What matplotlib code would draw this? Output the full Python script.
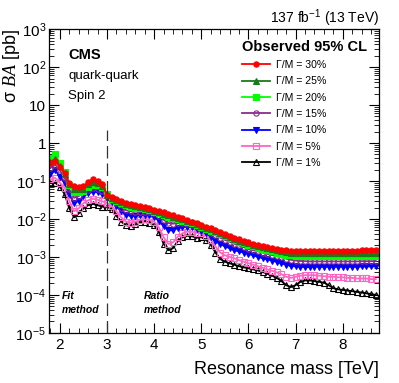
import numpy as np
import matplotlib
matplotlib.use('Agg')
import matplotlib.pyplot as plt

plt.rcParams['font.family'] = ['Liberation Sans', 'DejaVu Sans']
plt.rcParams['mathtext.fontset'] = 'custom'
plt.rcParams['mathtext.rm'] = 'Liberation Sans'
plt.rcParams['mathtext.it'] = 'Liberation Serif:italic'
plt.rcParams['mathtext.default'] = 'regular'

# resonance mass grid [TeV]
mass = np.arange(1.8, 8.75, 0.1).round(1)

# observed 95% CL limits [pb], one list per width
lim30 = [0.30, 0.33, 0.24, 0.16, 0.087, 0.073, 0.070, 0.072, 0.095, 0.110,
         0.100, 0.082, 0.042, 0.037, 0.033, 0.030, 0.027, 0.025, 0.0235, 0.022,
         0.0205, 0.019, 0.0175, 0.016, 0.0148, 0.0135, 0.0124, 0.0114, 0.0104, 0.0094,
         0.0085, 0.0076, 0.0069, 0.0062, 0.0056, 0.0050, 0.0045, 0.0040, 0.0036, 0.0032,
         0.0029, 0.0026, 0.0024, 0.0022, 0.0020, 0.0019, 0.0018, 0.0017, 0.0016, 0.00155,
         0.00150, 0.00145, 0.00142, 0.00142, 0.00142, 0.00143, 0.00143, 0.00143, 0.00144, 0.00144,
         0.00145, 0.00145, 0.00146, 0.00146, 0.00147, 0.00147, 0.00148, 0.00148, 0.00149, 0.00150]
lim25 = [0.32, 0.38, 0.25, 0.15, 0.083, 0.062, 0.060, 0.063, 0.082, 0.095,
         0.090, 0.075, 0.044, 0.036, 0.032, 0.028, 0.025, 0.023, 0.022, 0.0205,
         0.0193, 0.018, 0.0166, 0.0152, 0.0138, 0.0125, 0.0115, 0.0106, 0.0097, 0.0089,
         0.0081, 0.0072, 0.0065, 0.0059, 0.0053, 0.0047, 0.0042, 0.0038, 0.0034, 0.0030,
         0.0027, 0.0025, 0.0023, 0.0021, 0.0019, 0.0018, 0.0017, 0.0016, 0.0015, 0.00142,
         0.00135, 0.00130, 0.00127, 0.00126, 0.00126, 0.00126, 0.00126, 0.00127, 0.00127, 0.00127,
         0.00127, 0.00128, 0.00128, 0.00128, 0.00129, 0.00129, 0.00129, 0.00130, 0.00130, 0.00130]
lim20 = [0.40, 0.50, 0.30, 0.17, 0.080, 0.050, 0.050, 0.055, 0.070, 0.080,
         0.078, 0.068, 0.045, 0.034, 0.030, 0.026, 0.023, 0.021, 0.020, 0.019,
         0.018, 0.017, 0.0155, 0.0142, 0.0128, 0.0115, 0.0105, 0.0097, 0.0090, 0.0083,
         0.0076, 0.0068, 0.0061, 0.0055, 0.0049, 0.0044, 0.0039, 0.0035, 0.0031, 0.0028,
         0.0025, 0.0023, 0.0021, 0.0019, 0.00175, 0.0016, 0.0015, 0.0014, 0.0013, 0.00122,
         0.00115, 0.00110, 0.00105, 0.00104, 0.00104, 0.00104, 0.00104, 0.00104, 0.00105, 0.00105,
         0.00105, 0.00105, 0.00106, 0.00106, 0.00106, 0.00107, 0.00107, 0.00107, 0.00108, 0.00108]
lim15 = [0.22, 0.27, 0.19, 0.12, 0.060, 0.036, 0.040, 0.050, 0.058, 0.064,
         0.062, 0.056, 0.040, 0.031, 0.026, 0.020, 0.017, 0.016, 0.0155, 0.0155,
         0.0155, 0.015, 0.014, 0.012, 0.0095, 0.0078, 0.0075, 0.0077, 0.0076, 0.0073,
         0.0068, 0.0063, 0.0057, 0.0050, 0.0043, 0.0037, 0.0032, 0.0028, 0.0025, 0.0022,
         0.0020, 0.0018, 0.0016, 0.0015, 0.0014, 0.0013, 0.0012, 0.00112, 0.00104, 0.00097,
         0.00090, 0.00084, 0.00080, 0.00078, 0.00077, 0.00076, 0.00076, 0.00076, 0.00076, 0.00076,
         0.00076, 0.00076, 0.00076, 0.00076, 0.00076, 0.00076, 0.00077, 0.00077, 0.00077, 0.00078]
lim10 = [0.15, 0.19, 0.13, 0.09, 0.045, 0.026, 0.030, 0.040, 0.047, 0.052,
         0.050, 0.045, 0.035, 0.028, 0.022, 0.016, 0.013, 0.012, 0.012, 0.0125,
         0.013, 0.0125, 0.0115, 0.009, 0.0065, 0.0050, 0.0050, 0.0058, 0.0062, 0.0062,
         0.0060, 0.0055, 0.0048, 0.0042, 0.0034, 0.0027, 0.0022, 0.0019, 0.0017, 0.0015,
         0.0014, 0.0013, 0.0012, 0.0011, 0.0010, 0.00093, 0.00086, 0.00080, 0.00074, 0.00068,
         0.00062, 0.00058, 0.00056, 0.00055, 0.00054, 0.00054, 0.00055, 0.00055, 0.00055, 0.00055,
         0.00055, 0.00055, 0.00055, 0.00055, 0.00055, 0.00055, 0.00056, 0.00056, 0.00056, 0.00056]
lim5 = [0.11, 0.12, 0.09, 0.065, 0.030, 0.016, 0.019, 0.026, 0.031, 0.034,
        0.032, 0.029, 0.026, 0.022, 0.016, 0.011, 0.0085, 0.0080, 0.0085, 0.0095,
        0.0100, 0.0095, 0.0085, 0.0060, 0.0033, 0.0022, 0.0024, 0.0034, 0.0042, 0.0046,
        0.0046, 0.0043, 0.0042, 0.0036, 0.0028, 0.0019, 0.0013, 0.0011, 0.0010, 0.00092,
        0.00082, 0.00075, 0.00068, 0.00062, 0.00057, 0.00052, 0.00047, 0.00043, 0.00039, 0.00035,
        0.00030, 0.00028, 0.00030, 0.00032, 0.00033, 0.00033, 0.00033, 0.00032, 0.00031, 0.00030,
        0.00030, 0.00029, 0.00029, 0.00028, 0.00028, 0.00027, 0.00027, 0.00027, 0.00026, 0.00026]
lim1 = [0.091, 0.090, 0.070, 0.045, 0.019, 0.011, 0.014, 0.019, 0.023, 0.025,
        0.023, 0.021, 0.021, 0.018, 0.012, 0.0085, 0.0068, 0.0066, 0.0072, 0.0082,
        0.0085, 0.0080, 0.0068, 0.0045, 0.0022, 0.0015, 0.0017, 0.0026, 0.0033, 0.0036,
        0.0035, 0.0032, 0.0033, 0.0028, 0.0021, 0.0013, 0.00088, 0.00075, 0.00068, 0.00062,
        0.00057, 0.00053, 0.00050, 0.00047, 0.00044, 0.00040, 0.00036, 0.00032, 0.00028, 0.00023,
        0.00018, 0.00016, 0.00018, 0.00022, 0.00024, 0.00024, 0.00023, 0.00022, 0.00021, 0.00018,
        0.00015, 0.00014, 0.000135, 0.00013, 0.000125, 0.00012, 0.000115, 0.00011, 0.000105, 0.00010]

labels = ['Γ/M = 30%', 'Γ/M = 25%', 'Γ/M = 20%', 'Γ/M = 15%',
          'Γ/M = 10%', 'Γ/M = 5%', 'Γ/M = 1%']
limits = [lim30, lim25, lim20, lim15, lim10, lim5, lim1]
colors = ['#ff0000', '#1a7a1a', '#00ff00', '#8c2a8c', '#0000ff', '#ff66c4', '#000000']
markers = ['o', '^', 's', 'o', 'v', 's', '^']
filled = [True, True, True, False, True, False, False]

fig = plt.figure(figsize=(3.99, 3.83), dpi=100)
ax = fig.add_axes([0.123, 0.131, 0.827, 0.793])

handles = []
for i in reversed(range(len(limits))):
    fc = colors[i] if filled[i] else 'none'
    h, = ax.plot(mass, limits[i], color=colors[i], lw=1.3, marker=markers[i],
                 ms=3.8, mfc=fc, mec=colors[i], mew=0.8, label=labels[i])
    handles.append(h)
handles = handles[::-1]

ax.set_yscale('log')
ax.set_xlim(1.77, 8.77)
ax.set_ylim(1e-5, 1e3)

ax.vlines(3.0, 1e-5, 2.2, colors='#333333', lw=0.9, linestyles=(0, (10, 4)))

ax.set_yticks([1e-5, 1e-4, 1e-3, 1e-2, 1e-1, 1, 10, 1e2, 1e3])
ax.set_yticklabels(['$10^{-5}$', '$10^{-4}$', '$10^{-3}$', '$10^{-2}$', '$10^{-1}$',
                    '1', '10', '$10^{2}$', '$10^{3}$'])
ax.set_xticks([2, 3, 4, 5, 6, 7, 8])
ax.set_xticks(np.arange(1.8, 8.8, 0.2), minor=True)
ax.tick_params(which='both', direction='in', top=True, right=True, labelsize=11)
ax.tick_params(which='major', length=7, width=0.8, pad=4)
ax.tick_params(which='minor', length=3.5, width=0.6)
ax.tick_params(axis='y', which='major', pad=2)
for s in ax.spines.values():
    s.set_linewidth(0.9)

ax.set_xlabel('Resonance mass [TeV]', fontsize=13, loc='right', labelpad=6)
ax.set_ylabel(r'$\sigma$ $\mathit{B}$$\mathit{A}$ [pb]', fontsize=13, loc='top')
ax.yaxis.set_label_coords(-0.082, 1.0)

fig.text(0.950, 0.941, r'137 fb$^{-1}$ (13 TeV)', fontsize=10, ha='right', va='baseline')
ax.text(0.058, 0.915, 'CMS', fontsize=10.5, fontweight='bold', transform=ax.transAxes, va='center')
ax.text(0.058, 0.847, 'quark-quark', fontsize=9.5, transform=ax.transAxes, va='center')
ax.text(0.058, 0.780, 'Spin 2', fontsize=9.5, transform=ax.transAxes, va='center')

ax.text(2.03, 9.5e-5, 'Fit', fontsize=7.5, fontweight='bold', style='italic', va='center')
ax.text(2.03, 4e-5, 'method', fontsize=7.5, fontweight='bold', style='italic', va='center')
ax.text(3.77, 9.5e-5, 'Ratio', fontsize=7.5, fontweight='bold', style='italic', va='center')
ax.text(3.77, 4e-5, 'method', fontsize=7.5, fontweight='bold', style='italic', va='center')

leg = ax.legend(handles=handles, loc='upper right', bbox_to_anchor=(0.985, 0.99),
                frameon=False, fontsize=7.6, title='Observed 95% CL',
                title_fontproperties={'weight': 'bold', 'size': 10.5},
                handlelength=2.7, handletextpad=0.55, labelspacing=0.6,
                borderaxespad=0.3, alignment='left')
leg._legend_handle_box.align = 'baseline'

fig.savefig('out.png', dpi=100)
